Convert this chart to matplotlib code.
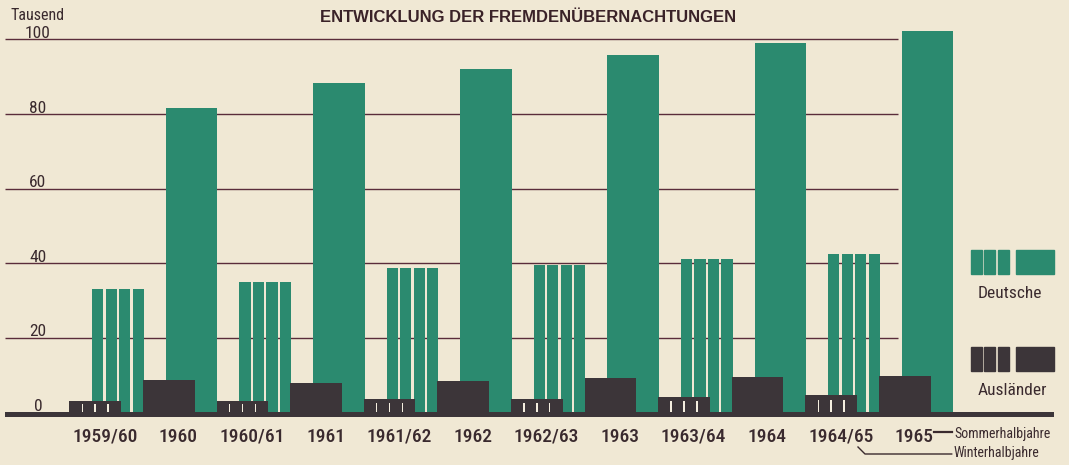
import matplotlib
matplotlib.use("Agg")
import matplotlib.pyplot as plt
from matplotlib.patches import Rectangle
from matplotlib.lines import Line2D

# Fremdenübernachtungen in Tausend, Winter- und Sommerhalbjahre
perioden = ['1959/60', '1960', '1960/61', '1961', '1961/62', '1962',
            '1962/63', '1963', '1963/64', '1964', '1964/65', '1965']
deutsche_winter = [33.0, 35.0, 38.8, 39.5, 41.2, 42.5]
deutsche_sommer = [81.6, 88.3, 92.0, 95.8, 99.1, 102.3]
auslaender_winter = [3.2, 3.2, 3.5, 3.7, 4.2, 4.7]
auslaender_sommer = [8.7, 7.8, 8.4, 9.2, 9.6, 9.9]
y_ticks = [0, 20, 40, 60, 80, 100]

W, H = 1069, 465
BG = '#f0e8d4'
GREEN = '#2b8a6f'
DARK = '#3c3539'
GAP = '#f4eedf'
GRID = '#5a2c3a'
TXT = '#3a2a2e'
NARROW = ['Roboto Condensed', 'DejaVu Sans']
NKW = dict(family=NARROW, fontstretch='condensed', color=TXT)

fig = plt.figure(figsize=(W / 100, H / 100), dpi=100, facecolor=BG)
ax = fig.add_axes([0, 0, 1, 1])
ax.set_facecolor(BG)
ax.axis('off')
ax.set_xlim(-118 / 73.6, (W - 118) / 73.6)
ax.set_ylim(-52.5 / 3.73, 412.5 / 3.73)

def px(x, y):
    # pixel position (from top left) -> figure fraction
    return x / W, 1 - y / H

bw = 0.70       # bar width
off = -0.31     # shift of the Ausländer bars
gap = 0.03
sw = (bw - 3 * gap) / 4

# gridlines behind bars
ax.hlines(y_ticks[1:], -1.535, 10.6, color=GRID, lw=1.0, zorder=1)

xw = [2 * k for k in range(len(deutsche_winter))]
xs = [2 * k + 1 for k in range(len(deutsche_sommer))]

# Deutsche, Winter: four stripes
for j in range(4):
    pos = [x - bw / 2 + sw / 2 + j * (sw + gap) for x in xw]
    ax.bar(pos, deutsche_winter, width=sw, color=GREEN, zorder=2)
# Deutsche, Sommer
ax.bar(xs, deutsche_sommer, width=bw, color=GREEN, zorder=2)

# Ausländer
ax.bar([x + off for x in xw], auslaender_winter, width=bw, color=DARK, zorder=3)
for j in range(1, 4):
    pos = [x + off - bw / 2 + j * (bw / 4) for x in xw]
    ax.bar(pos, [v * 0.72 for v in auslaender_winter], width=0.02,
           color=GAP, zorder=4)
ax.bar([x + off for x in xs], auslaender_sommer, width=bw, color=DARK, zorder=3)

# base band
ax.fill_between([-1.535, 12.72], -1.2, 0.2, color=DARK, lw=0, zorder=5)

# y labels
for v in y_ticks:
    ax.text(-1.087, v + 0.4, str(v), ha='center', va='baseline',
            fontsize=12.5, **NKW)

# period labels
for i, lab in enumerate(perioden):
    ax.text(i - 0.18, -7.85, lab, ha='center', va='baseline',
            fontsize=14, fontweight='medium', **NKW)

# header texts
fig.text(*px(37.5, 20), 'Tausend', ha='center', va='baseline',
         fontsize=11.5, **NKW)
fig.text(*px(528, 21.7), 'ENTWICKLUNG DER FREMDENÜBERNACHTUNGEN',
         ha='center', va='baseline', fontsize=12, fontweight='bold',
         family=['Liberation Sans', 'DejaVu Sans'], color='#3a2228')

# legend
def swatch(y0, color):
    for x0 in (970.7, 984.0, 997.7):
        x, y = px(x0, y0 + 24)
        fig.add_artist(Rectangle((x, y), 11 / W, 24 / H, color=color,
                                 transform=fig.transFigure))
    x, y = px(1016, y0 + 24)
    fig.add_artist(Rectangle((x, y), 38 / W, 24 / H, color=color,
                             transform=fig.transFigure))

swatch(250, GREEN)
swatch(347, DARK)
fig.text(*px(1009.7, 298.3), 'Deutsche', ha='center', va='baseline',
         fontsize=12.5, **NKW)
fig.text(*px(1012, 395), 'Ausländer', ha='center', va='baseline',
         fontsize=12.5, **NKW)

# Sommer / Winter note
fig.add_artist(Line2D([934 / W, 951.5 / W], [1 - 432 / H, 1 - 432 / H],
                      color=TXT, lw=1.6, transform=fig.transFigure))
fig.add_artist(Line2D([858 / W, 865 / W, 951.7 / W],
                      [1 - 447 / H, 1 - 454 / H, 1 - 454 / H],
                      color=TXT, lw=1.0, transform=fig.transFigure))
fig.text(*px(954, 438), 'Sommerhalbjahre', ha='left', va='baseline',
         fontsize=10, **NKW)
fig.text(*px(954, 456.5), 'Winterhalbjahre', ha='left', va='baseline',
         fontsize=10, **NKW)

fig.savefig('out.png', dpi=100, facecolor=BG)
